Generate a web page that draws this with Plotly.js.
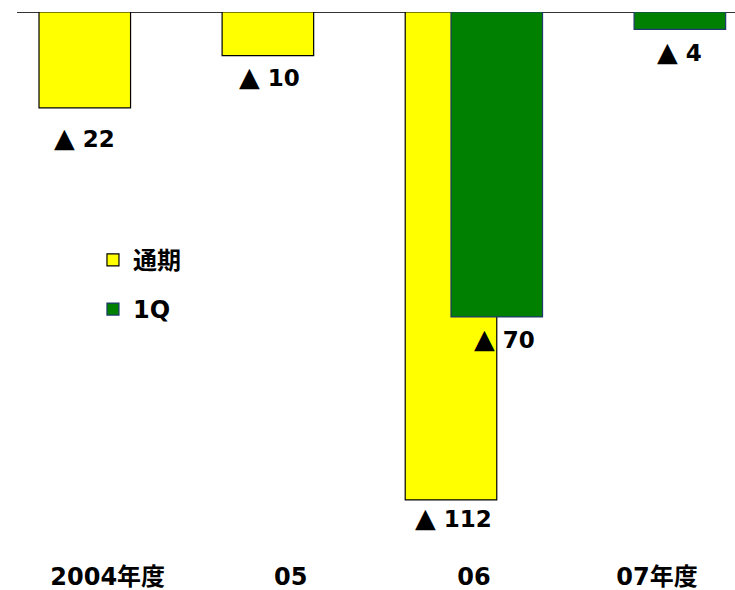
<!DOCTYPE html>
<html>
<head>
<meta charset="utf-8">
<script src="https://cdn.plot.ly/plotly-3.0.1.min.js"></script>
<style>
  html, body { margin: 0; padding: 0; background: #ffffff; }
  #chart { width: 735px; height: 590px; }
</style>
</head>
<body>
<div id="chart"></div>
<script>
// Fiscal-year categories and the two loss series (negative = loss, shown with ▲)
const years = ['2004年度', '05', '06', '07年度'];
const fullYear = [-22, -10, -112, null];   // 通期
const firstQuarter = [null, null, -70, -4]; // 1Q
const seriesNames = ['通期', '1Q'];

const fontStack = 'DejaVu Sans, Noto Sans CJK JP, sans-serif';
const valueFont = { family: fontStack, size: 23, color: '#000000', weight: 'bold' };
const tickFont = { family: fontStack, size: 24, color: '#000000', weight: 'bold' };

const barWidth = 0.5;
const offsets = [-0.375, -0.125];

const traces = [
  {
    type: 'bar', name: seriesNames[0], x: years, y: fullYear,
    width: barWidth, offset: offsets[0], legendgroup: 'a',
    marker: { color: '#ffff00', line: { color: '#000000', width: 1.2 } },
    hoverinfo: 'skip'
  },
  {
    type: 'bar', name: seriesNames[1], x: years, y: firstQuarter,
    width: barWidth, offset: offsets[1], legendgroup: 'b',
    marker: { color: '#008000', line: { color: '#1f3a6e', width: 1.2 } },
    hoverinfo: 'skip'
  }
];

// "▲ n" value labels under each bar; drop = vertical distance below the bar end (px)
const drops = [[30, 21, 18, null], [null, null, 22, 22]];
const nudges = [[0, 2, 3, 0], [0, 0, 8, 0]];
const annotations = [];
[fullYear, firstQuarter].forEach((series, s) => {
  series.forEach((v, i) => {
    if (v === null) return;
    annotations.push({
      x: i + offsets[s] + barWidth / 2, y: v, xref: 'x', yref: 'y',
      text: '<span style="font-size:27px">▲</span> ' + Math.abs(v), showarrow: false,
      xanchor: 'center', yanchor: 'middle',
      yshift: -drops[s][i], xshift: nudges[s][i],
      font: valueFont
    });
  });
});

const layout = {
  width: 735, height: 590,
  margin: { l: 17, r: 0, t: 12, b: 30 },
  paper_bgcolor: '#ffffff', plot_bgcolor: '#ffffff',
  barmode: 'overlay',
  showlegend: true,
  legend: {
    x: 0.1058, y: 0.588, xanchor: 'left', yanchor: 'top',
    traceorder: 'grouped', tracegroupgap: 15,
    font: { family: fontStack, size: 24, color: '#000000', weight: 'bold' },
    bgcolor: 'rgba(0,0,0,0)', borderwidth: 0
  },
  xaxis: {
    type: 'category', range: [-0.4952, 3.4261],
    showgrid: false, zeroline: false, showline: false,
    ticks: '', tickfont: tickFont, fixedrange: true
  },
  yaxis: {
    range: [-125.8, 0],
    showgrid: false, showticklabels: false, ticks: '', showline: false,
    zeroline: true, zerolinecolor: '#333333', zerolinewidth: 1, fixedrange: true
  },
  annotations: annotations
};

Plotly.newPlot('chart', traces, layout, { displayModeBar: false, staticPlot: true });
</script>
</body>
</html>
